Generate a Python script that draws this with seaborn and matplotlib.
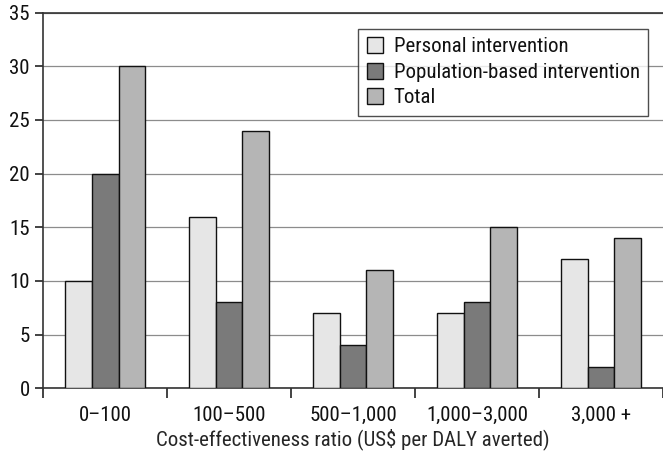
import pandas as pd
import numpy as np
import seaborn as sns
import matplotlib.pyplot as plt
from matplotlib.ticker import FixedLocator

# data
categories = ["0\u2013100", "100\u2013500", "500\u20131,000", "1,000\u20133,000", "3,000 +"]
personal = [10, 16, 7, 7, 12]
population = [20, 8, 4, 8, 2]
total = [30, 24, 11, 15, 14]
series = ["Personal intervention", "Population-based intervention", "Total"]
colors = ["#e6e6e6", "#7a7a7a", "#b5b5b5"]

df = pd.DataFrame({
    "category": categories * 3,
    "value": personal + population + total,
    "series": [s for s in series for _ in categories],
})

sns.set_style("white")
plt.rcParams["font.family"] = ["Roboto Condensed", "Archivo Narrow", "DejaVu Sans"]
plt.rcParams["text.color"] = "#111111"
plt.rcParams["xtick.color"] = "#111111"
plt.rcParams["ytick.color"] = "#111111"

fs = 15

fig, ax = plt.subplots(figsize=(6.63, 4.54), dpi=100)
sns.barplot(data=df, x="category", y="value", hue="series", palette=colors,
            width=0.65, gap=0, edgecolor="#111111", linewidth=1.0, ax=ax,
            zorder=3)

ax.set_ylim(0, 35)
ax.set_xlim(-0.5, len(categories) - 0.5)
ax.set_yticks(np.arange(0, 36, 5))
ax.yaxis.grid(True, color="#8c8c8c", linewidth=0.9, zorder=0)
ax.set_axisbelow(True)

# tick marks between the groups, labels in the middle
ax.xaxis.set_minor_locator(FixedLocator(np.arange(-0.5, len(categories), 1)))
ax.tick_params(axis="x", which="major", length=0, labelsize=fs, pad=13, bottom=True)
ax.tick_params(axis="x", which="minor", length=7, width=1.2, color="#222222",
               direction="out", bottom=True)
ax.tick_params(axis="y", length=6, width=1.2, color="#222222", labelsize=fs, left=True)

ax.spines["right"].set_visible(False)
for side in ["left", "bottom", "top"]:
    ax.spines[side].set_color("#333333")
    ax.spines[side].set_linewidth(1.2)

ax.set_xlabel("Cost-effectiveness ratio (US$ per DALY averted)", fontsize=fs, labelpad=2)
ax.set_ylabel("")

leg = ax.legend(loc="upper right", bbox_to_anchor=(0.976, 0.957), borderaxespad=0,
                fontsize=fs, frameon=True, fancybox=False, handlelength=0.8,
                handleheight=0.8, handletextpad=0.5, labelspacing=0.3, borderpad=0.4)
leg.get_frame().set_edgecolor("#222222")
leg.get_frame().set_linewidth(1.0)
leg.set_title(None)

plt.subplots_adjust(left=0.065, right=1.0, top=0.972, bottom=0.145)
plt.savefig("out.png", dpi=100)
